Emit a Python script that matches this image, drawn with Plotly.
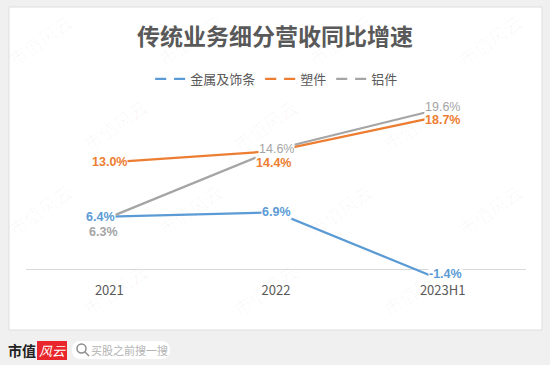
import plotly.graph_objects as go

categories = ["2021", "2022", "2023H1"]
metal = [6.4, 6.9, -1.4]       # 金属及饰条
plastic = [13.0, 14.4, 18.7]   # 塑件
alum = [6.3, 14.6, 19.6]       # 铝件
names = ["金属及饰条", "塑件", "铝件"]

colors = ["#5b9bd5", "#ed7d31", "#a5a5a5"]
series = [metal, plastic, alum]

# label offsets (pixels) per series / point
label_shift = [
    [(-9, 0), (0, 0), (3, 6)],
    [(0, 0), (-3, -12), (0, -4)],
    [(-6, -15), (0, 0), (0, 1)],
]
label_bold = [[True, True, True], [True, True, True], [True, False, False]]

W, H = 550, 365
PL, PR, PT, PB = 26, 526, 97, 281
PX_PER = 8.2
ZERO_Y = 269
ymin = -(PB - ZERO_Y) / PX_PER
ymax = (ZERO_Y - PT) / PX_PER

def fx(px):
    return (px - PL) / (PR - PL)

def fy(py):
    return (PB - py) / (PB - PT)

FONT = "Noto Sans CJK SC, Noto Sans, sans-serif"

fig = go.Figure()
for s, c, n in zip(series, colors, names):
    fig.add_trace(go.Scatter(
        x=categories, y=s, name=n, mode="lines+markers",
        line=dict(color=c, width=2.25),
        marker=dict(color="white", size=8, line=dict(width=0)),
        hoverinfo="skip",
    ))

annotations = []

# watermark (drawn first, under labels)
wm_positions = []
for r, yy in enumerate([40, 125, 210, 290]):
    off = 0 if r % 2 == 0 else 75
    for xx in range(40 + off, 540, 150):
        wm_positions.append((xx, yy))
for (xx, yy) in wm_positions:
    annotations.append(dict(
        x=fx(xx), y=fy(yy), xref="paper", yref="paper", text="市值风云",
        xanchor="center", yanchor="middle",
        showarrow=False, textangle=-35,
        font=dict(family=FONT, size=18, color="rgba(0,0,0,0.03)"),
    ))

for s, c, shifts, bolds in zip(series, colors, label_shift, label_bold):
    for i, (v, (dx, dy), b) in enumerate(zip(s, shifts, bolds)):
        txt = f"{v:.1f}%"
        if b:
            txt = f"<b>{txt}</b>"
        annotations.append(dict(
            x=i, y=v, xref="x", yref="y", text=txt, showarrow=False,
            xanchor="center", yanchor="middle",
            xshift=dx, yshift=dy, bgcolor="white", borderpad=0,
            font=dict(family="Liberation Sans, Arial", size=12.5, color=c),
        ))

# footer
annotations.append(dict(x=fx(22), y=fy(350), xref="paper", yref="paper",
                        text="<b>市值</b>", showarrow=False,
                        xanchor="center", yanchor="middle",
                        font=dict(family=FONT, size=14, color="#222222")))
annotations.append(dict(x=fx(52), y=fy(350), xref="paper", yref="paper",
                        text="<i>风云</i>", showarrow=False,
                        xanchor="center", yanchor="middle",
                        font=dict(family=FONT, size=13, color="white")))
annotations.append(dict(x=fx(129), y=fy(350), xref="paper", yref="paper",
                        text="买股之前搜一搜", showarrow=False,
                        xanchor="center", yanchor="middle",
                        font=dict(family=FONT, size=11, color="#b3b3b3")))

shapes = [
    dict(type="rect", xref="paper", yref="paper", layer="below",
         x0=fx(9), x1=fx(542), y0=fy(330), y1=fy(7),
         fillcolor="white", line=dict(color="#dedede", width=1)),
    dict(type="rect", xref="paper", yref="paper",
         x0=fx(37), x1=fx(67), y0=fy(360), y1=fy(341),
         fillcolor="#e8262b", line=dict(width=0)),
]
# rounded search pill
x0p, x1p, y0p, y1p, rr = 72, 170, 341, 359, 9
path = (f"M {fx(x0p+rr)},{fy(y0p)} L {fx(x1p-rr)},{fy(y0p)} "
        f"Q {fx(x1p)},{fy(y0p)} {fx(x1p)},{fy((y0p+y1p)/2)} "
        f"Q {fx(x1p)},{fy(y1p)} {fx(x1p-rr)},{fy(y1p)} "
        f"L {fx(x0p+rr)},{fy(y1p)} "
        f"Q {fx(x0p)},{fy(y1p)} {fx(x0p)},{fy((y0p+y1p)/2)} "
        f"Q {fx(x0p)},{fy(y0p)} {fx(x0p+rr)},{fy(y0p)} Z")
shapes.append(dict(type="path", xref="paper", yref="paper", path=path,
                   fillcolor="white", line=dict(width=0)))
shapes.append(dict(type="circle", xref="paper", yref="paper",
                   x0=fx(77), x1=fx(86), y0=fy(353), y1=fy(344),
                   line=dict(color="#8c8c8c", width=1.5)))
shapes.append(dict(type="line", xref="paper", yref="paper",
                   x0=fx(85), x1=fx(89), y0=fy(352), y1=fy(356),
                   line=dict(color="#8c8c8c", width=1.5)))

fig.update_layout(
    width=W, height=H,
    margin=dict(l=PL, r=W - PR, t=PT, b=H - PB, pad=0, autoexpand=False),
    paper_bgcolor="#f0f0f0", plot_bgcolor="rgba(0,0,0,0)",
    title=dict(text="<b>传统业务细分营收同比增速</b>", x=0.5, xanchor="center",
               xref="container", y=1 - 37 / H, yref="container",
               yanchor="middle",
               font=dict(family=FONT, size=23, color="#595959")),
    legend=dict(orientation="h", xref="container", yref="container",
                x=0.503, xanchor="center", y=1 - 79 / H, yanchor="middle",
                font=dict(family=FONT, size=13, color="#595959"),
                bgcolor="rgba(0,0,0,0)", itemwidth=30),
    xaxis=dict(type="category", range=[-0.5, 2.5], showgrid=False,
               showline=False, ticks="", zeroline=False,
               tickfont=dict(family=FONT, size=13, color="#595959"),
               fixedrange=True),
    yaxis=dict(range=[ymin, ymax], showgrid=False, showticklabels=False,
               zeroline=True, zerolinecolor="#d9d9d9", zerolinewidth=1,
               fixedrange=True),
    annotations=annotations,
    shapes=shapes,
    showlegend=True,
)

fig.write_html("out.html", config={"displayModeBar": False},
               post_script="document.body.style.margin='0';document.body.style.overflow='hidden';")
